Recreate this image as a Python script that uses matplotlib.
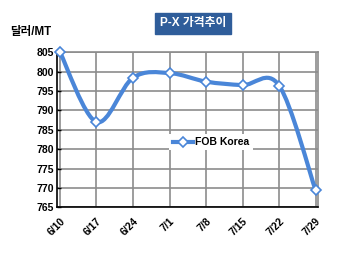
import numpy as np
import matplotlib
matplotlib.use('Agg')
import matplotlib.pyplot as plt
from matplotlib.path import Path
from matplotlib.patches import PathPatch
from matplotlib.lines import Line2D

plt.rcParams['font.family'] = ['Liberation Sans', 'Noto Sans CJK KR', 'DejaVu Sans']

# data
dates = ['6/10', '6/17', '6/24', '7/1', '7/8', '7/15', '7/22', '7/29']
fob_korea = [805.0, 787.0, 798.4, 799.6, 797.4, 796.5, 796.4, 769.4]

blue = '#4A86D8'

fig = plt.figure(figsize=(3.5, 2.58), dpi=100)
ax = fig.add_axes([0.163, 0.196, 0.746, 0.602])

x = np.arange(len(dates))
y = np.array(fob_korea)

# smoothed line like Excel (Catmull-Rom -> cubic bezier)
verts = [(x[0], y[0])]
codes = [Path.MOVETO]
n = len(x)
for i in range(n - 1):
    p0 = (x[max(i - 1, 0)], y[max(i - 1, 0)])
    p1 = (x[i], y[i])
    p2 = (x[i + 1], y[i + 1])
    p3 = (x[min(i + 2, n - 1)], y[min(i + 2, n - 1)])
    c1 = (p1[0] + (p2[0] - p0[0]) / 6, p1[1] + (p2[1] - p0[1]) / 6)
    c2 = (p2[0] - (p3[0] - p1[0]) / 6, p2[1] - (p3[1] - p1[1]) / 6)
    verts += [c1, c2, p2]
    codes += [Path.CURVE4] * 3
ax.add_patch(PathPatch(Path(verts, codes), facecolor='none', edgecolor=blue,
                       lw=3, zorder=3, capstyle='round', joinstyle='round'))
ax.plot(x, y, linestyle='none', marker='D', ms=5.5, mfc='white', mec=blue,
        mew=1.2, zorder=4, clip_on=False)

ax.set_xlim(-0.08, 7.07)
ax.set_ylim(765, 805)
ax.set_yticks(np.arange(765, 806, 5))
ax.set_xticks(x)
ax.set_xticklabels(dates, rotation=45, ha='right', rotation_mode='anchor',
                   fontsize=7.5, fontweight='bold')
for lab in ax.get_yticklabels():
    lab.set_fontsize(7.5)
    lab.set_fontweight('bold')
ax.tick_params(axis='y', length=3, width=1, pad=2, direction='in')
ax.tick_params(axis='x', length=0, pad=6)

ax.grid(True, color='#8c8c8c', lw=1.2)
ax.set_axisbelow(True)
for s in ['top', 'right']:
    ax.spines[s].set_color('#8c8c8c')
    ax.spines[s].set_linewidth(1.2)
for s in ['left', 'bottom']:
    ax.spines[s].set_color('black')
    ax.spines[s].set_linewidth(1.2)

handle = Line2D([], [], color=blue, lw=3, marker='D', ms=5, mfc='white',
                mec=blue, mew=1.2)
leg = ax.legend([handle], ['FOB Korea'], loc='center', bbox_to_anchor=(0.59, 0.42),
                frameon=True, fancybox=False, edgecolor='none', framealpha=1,
                prop={'size': 7.5, 'weight': 'bold'}, handlelength=2.0,
                handletextpad=0.2, borderpad=0.3)

fig.text(0.03, 0.875, '달러/MT', fontsize=8.3, fontweight='bold', va='center')
fig.text(0.551, 0.909, 'P-X 가격추이', fontsize=8.5, fontweight='bold', color='white',
         ha='center', va='center',
         bbox=dict(boxstyle='square,pad=0.4', fc='#2F5D9A', ec='#2F5D9A'))

fig.savefig('out.png', dpi=100)
